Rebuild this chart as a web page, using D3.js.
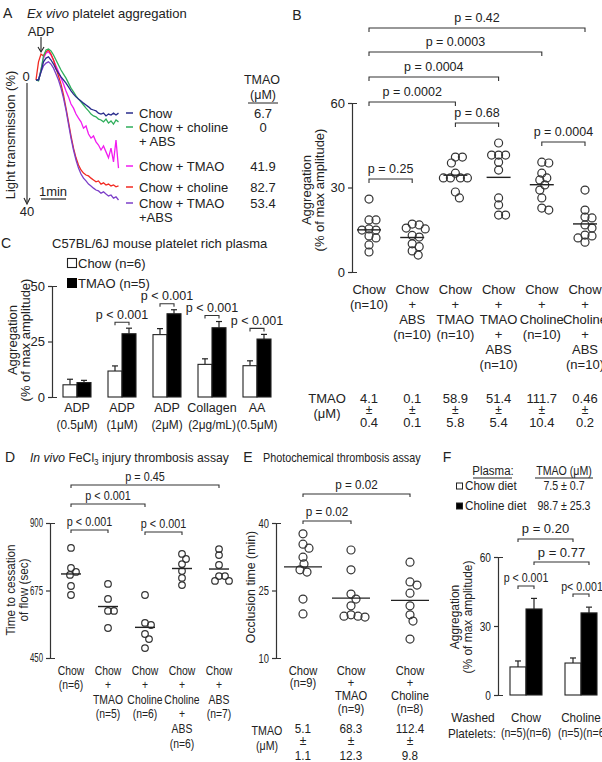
<!DOCTYPE html>
<html>
<head>
<meta charset="utf-8">
<script src="https://cdn.jsdelivr.net/npm/d3@7"></script>
<style>
  body { margin: 0; background: #fff; }
  svg { display: block; font-family: "Liberation Sans", Arial, sans-serif; }
  text { fill: #222; }
  .axis path, .axis line { stroke: #333; stroke-width: 1.2; }
  .axis text { fill: #222; }
</style>
</head>
<body>
<svg id="fig"></svg>
<script>
// ---------- data ----------
// A: aggregometer traces, light transmission (%), one sample every 0.1 min
var traceStep = 0.1;
var traceChow = [0,0,-2.6,-5.8,-7.0,-7.4,-6.4,-5.1,-3.5,-2.2,-1.0,0,1.0,2.2,3.5,4.5,5.4,6.1,6.7,7.4,8.0,8.6,9.3,9.6,9.9,10.6,10.9,10.6,11.5,10.9,11.2,10.6,11.2,10.6];
var traceCholineAbs = [0,0.3,-3.2,-7.7,-9.6,-9.9,-9.3,-8.0,-6.4,-4.8,-3.2,-1.9,-0.6,1.0,2.6,3.8,5.1,6.1,7.0,8.0,9.0,9.9,10.9,11.5,11.8,12.5,12.8,13.4,12.5,13.8,13.1,14.1,12.8,13.4];
var traceTmao = [0,0,-3.2,-7.0,-8.6,-9.0,-8.0,-6.4,-4.5,-2.6,-0.6,1.3,3.5,5.4,7.7,9.0,10.9,12.2,13.4,15.4,14.7,17.3,18.6,17.9,19.8,20.8,22.4,21.1,23.0,24.9,21.8,26.2,19.2,28.2];
var traceCholine = [0,-5.8,-8.3,-7.7,-9.0,-9.6,-8.3,-6.4,-3.8,-1.3,1.3,4.8,9.0,13.4,17.9,21.8,24.9,27.2,28.8,29.8,30.4,30.7,31.4,32.0,32.6,32.3,33.3,32.9,33.6,33.3,33.9,33.6,34.2,33.9];
var traceTmaoAbs = [0,0,-2.6,-4.5,-5.4,-5.8,-5.1,-3.8,-1.9,0,2.6,5.8,9.6,14.1,18.6,22.4,25.6,28.2,30.1,31.4,32.3,33.3,33.9,34.6,35.2,35.5,36.2,35.8,36.5,37.1,36.8,37.8,37.4,38.4];
var traceLegend = [["Chow"], ["Chow + choline", "+ ABS"], ["Chow + TMAO"], ["Chow + choline"], ["Chow + TMAO", "+ABS"]];
var traceTmaoLevel = ["6.7", "0", "41.9", "82.7", "53.4"];

// B: ex vivo aggregation (% of max amplitude), per mouse
var bLabels = [["Chow","(n=10)"],["Chow","+","ABS","(n=10)"],["Chow","+","TMAO","(n=10)"],
  ["Chow","+","TMAO","+","ABS","(n=10)"],["Chow","+","Choline","(n=10)"],["Chow","+","Choline","+","ABS","(n=10)"]];
var bValues = [
  [25.9,18.5,18.5,14.9,15.3,14.9,12.1,12.8,9.6,7.1],
  [17.0,16.7,15.6,15.3,13.0,12.4,10.0,9.0,7.5,6.0],
  [40.8,40.8,38.7,35.1,33.4,33.4,33.4,33.4,28.4,26.3],
  [45.8,41.5,41.5,41.5,39.0,36.2,26.3,23.8,20.2,20.2],
  [39.0,38.7,35.1,33.4,32.7,30.9,29.1,26.3,22.7,22.0],
  [29.1,22.0,19.2,19.5,16.7,15.6,13.1,12.8,12.1,10.6]
];
var bTmaoMean = ["4.1","0.1","58.9","51.4","111.7","0.46"];
var bTmaoSd = ["0.4","0.1","5.8","5.4","10.4","0.2"];
var bPairs = [[0,5],[0,4],[0,3],[0,2],[2,3],[4,5],[0,1]];
var bPvals = ["p = 0.42","p = 0.0003","p = 0.0004","p = 0.0002","p = 0.68","p = 0.0004","p = 0.25"];

// C: platelet rich plasma aggregation, mean and SE
var cAgonist = ["ADP","ADP","ADP","Collagen","AA"];
var cDose = ["(0.5\u03bcM)","(1\u03bcM)","(2\u03bcM)","(2\u03bcg/mL)","(0.5\u03bcM)"];
var cChow = [5.5, 11.7, 28.1, 14.7, 14.1];
var cChowErr = [2.5, 2.3, 2.7, 2.5, 2.2];
var cTmao = [6.5, 28.5, 37.5, 31.2, 26.1];
var cTmaoErr = [1.0, 2.5, 1.8, 2.8, 2.1];
var cPvals = [null, "p < 0.001", "p < 0.001", "p < 0.001", "p < 0.001"];

// D: time to cessation of flow (sec)
var dLabels = [["Chow","(n=6)"],["Chow","+","TMAO","(n=5)"],["Chow","+","Choline","(n=6)"],
  ["Chow","+","Choline","+","ABS","(n=6)"],["Chow","+","ABS","(n=7)"]];
var dValues = [
  [817,727,737,750,690,660],
  [697,647,607,607,550],
  [660,567,560,530,513,483],
  [797,780,763,740,717,693],
  [813,793,760,723,723,707,707]
];
var dPairs = [[0,4],[0,2],[0,1],[2,3]];
var dPvals = ["p = 0.45","p < 0.001","p < 0.001","p < 0.001"];

// E: occlusion time (min)
var eLabels = [["Chow","(n=9)"],["Chow","+","TMAO","(n=9)"],["Chow","+","Choline","(n=8)"]];
var eValues = [
  [37.6,35.3,34.4,32.4,30.9,29.6,29.1,23.1,19.8],
  [34.0,29.6,24.2,23.1,21.6,19.6,19.1,19.3,19.3],
  [31.3,26.9,26.2,24.4,21.6,19.6,18.2,14.2]
];
var eTmaoMean = ["5.1","68.3","112.4"];
var eTmaoSd = ["1.1","12.3","9.8"];
var ePairs = [[0,2],[0,1]];
var ePvals = ["p = 0.02","p = 0.02"];

// F: washed platelets, mean and SE
var fGroups = ["Chow","Choline"];
var fChowPlasma = [12.2, 13.9];
var fChowPlasmaErr = [2.6, 2.2];
var fCholinePlasma = [37.4, 35.7];
var fCholinePlasmaErr = [4.6, 2.5];
var fDiets = ["Chow diet","Choline diet"];
var fDietTmao = ["7.5 \u00b1 0.7","98.7 \u00b1 25.3"];

// ---------- helpers ----------
var svg = d3.select("#fig").attr("width", 602).attr("height", 762);
svg.append("rect").attr("width", 602).attr("height", 762).attr("fill", "#fff");

// text centred vertically on y; opt.sx squeezes it sideways (the lower panels use a narrow face)
function txt(g, x, y, s, opt) {
  opt = opt || {};
  var host = g, tx = x, ty = y;
  if (opt.sx && opt.sx !== 1) {
    host = g.append("g").attr("transform", "translate(" + x + "," + y + ") scale(" + opt.sx + ",1)");
    tx = 0; ty = 0;
  }
  var t = host.append("text")
    .attr("x", tx).attr("y", ty).attr("dy", "0.35em")
    .attr("text-anchor", opt.anchor || "middle")
    .attr("font-size", opt.size || 13)
    .text(s);
  if (opt.italic) t.attr("font-style", "italic");
  return t;
}

function vtxt(g, x, y, s, opt) {
  var gg = g.append("g").attr("transform", "translate(" + x + "," + y + ") rotate(-90)");
  return txt(gg, 0, 0, s, opt);
}

function bracket(g, x1, x2, y, tick) {
  g.append("path")
    .attr("d", "M" + x1 + "," + (y + tick) + "V" + y + "H" + x2 + "V" + (y + tick))
    .attr("fill", "none").attr("stroke", "#333").attr("stroke-width", 1.1);
}

// simple beeswarm: each point gets the smallest sideways offset that avoids the others
function swarm(values, y, r, squeeze) {
  var pts = values.map(function (v) { return { v: v, y: y(v), dx: 0 }; });
  var order = pts.slice().sort(function (a, b) { return a.y - b.y; });
  var minD = 2 * r * squeeze;
  var placed = [];
  order.forEach(function (p) {
    for (var k = 0; k < 80; k++) {
      var off = k === 0 ? 0 : (k % 2 ? (k + 1) / 2 : -k / 2);
      var hit = placed.some(function (q) {
        var ddx = q.dx - off, ddy = q.y - p.y;
        return ddx * ddx + ddy * ddy < minD * minD;
      });
      if (!hit) { p.dx = off; break; }
    }
    placed.push(p);
  });
  return pts;
}

function dotGroup(g, values, cx, y, r, squeeze, half) {
  swarm(values, y, r, squeeze).forEach(function (p) {
    g.append("circle").attr("cx", cx + p.dx).attr("cy", p.y).attr("r", r)
      .attr("fill", "none").attr("stroke", "#333").attr("stroke-width", 1.2);
  });
  var m = d3.mean(values);
  g.append("line").attr("x1", cx - half).attr("x2", cx + half)
    .attr("y1", y(m)).attr("y2", y(m)).attr("stroke", "#222").attr("stroke-width", 1.4);
}

function leftAxis(g, x, scale, ticks, size, sx) {
  var a = g.append("g").attr("class", "axis")
    .attr("transform", "translate(" + x + ",0)")
    .call(d3.axisLeft(scale).tickValues(ticks).tickSize(4).tickSizeOuter(-5).tickPadding(3));
  a.selectAll("text").attr("font-size", size).attr("font-family", null);
  if (sx) a.selectAll("text").attr("transform", "scale(" + sx + ",1)").attr("x", -7 / sx);
  return a;
}

function barPair(g, xc, w, y, v1, e1, v2, e2) {
  [[xc - w, v1, e1, "#fff"], [xc, v2, e2, "#000"]].forEach(function (b) {
    var top = y(b[1]), etop = y(b[1] + b[2]);
    g.append("line").attr("x1", b[0] + w / 2).attr("x2", b[0] + w / 2).attr("y1", top).attr("y2", etop)
      .attr("stroke", "#222").attr("stroke-width", 1.2);
    g.append("line").attr("x1", b[0] + w / 2 - 3).attr("x2", b[0] + w / 2 + 3).attr("y1", etop).attr("y2", etop)
      .attr("stroke", "#222").attr("stroke-width", 1.2);
    g.append("rect").attr("x", b[0]).attr("y", top).attr("width", w).attr("height", y(0) - top)
      .attr("fill", b[3]).attr("stroke", "#222").attr("stroke-width", 1.1);
  });
}

// ---------- panel A ----------
var gA = svg.append("g");
txt(gA, 3, 13, "A", { anchor: "start", size: 14 });
var ta = txt(gA, 27, 13, "", { anchor: "start", size: 13 });
ta.append("tspan").attr("font-style", "italic").text("Ex vivo");
ta.append("tspan").text(" platelet aggregation");

txt(gA, 41, 31, "ADP", { size: 13 });
gA.append("path").attr("d", "M41,37V51").attr("stroke", "#222").attr("stroke-width", 1.1);
gA.append("path").attr("d", "M38,47L41,52L44,47").attr("fill", "none").attr("stroke", "#222").attr("stroke-width", 1.1);

var ax = d3.scaleLinear().domain([0, (traceChow.length - 1) * traceStep]).range([36, 118.5]);
var ay = d3.scaleLinear().domain([0, 40]).range([80, 205]);

txt(gA, 26, 76, "0", { size: 13 });
txt(gA, 27, 211, "40", { size: 13 });
gA.append("path").attr("d", "M27," + (ay(0) + 3) + "V" + (ay(40) - 3)).attr("stroke", "#222").attr("stroke-width", 1.1);
gA.append("path").attr("d", "M24," + (ay(40) - 7) + "L27," + (ay(40) - 1) + "L30," + (ay(40) - 7))
  .attr("fill", "none").attr("stroke", "#222").attr("stroke-width", 1.1);
vtxt(gA, 10, 135, "Light transmission (%)", { size: 13 });

var traces = [
  { v: traceTmao, c: "#f21cf0" },
  { v: traceCholine, c: "#f22a22" },
  { v: traceTmaoAbs, c: "#7c3fc8" },
  { v: traceCholineAbs, c: "#2fae5b" },
  { v: traceChow, c: "#2a2d8c" }
];
var line = d3.line().x(function (d, i) { return ax(i * traceStep); }).y(function (d) { return ay(d); });
traces.forEach(function (t) {
  gA.append("path").attr("d", line(t.v)).attr("fill", "none").attr("stroke", t.c).attr("stroke-width", 1.3);
});

// 1 min scale bar
txt(gA, ax(0.2) + 12, 191, "1min", { size: 13 });
gA.append("line").attr("x1", ax(0.2)).attr("x2", ax(1.2)).attr("y1", 199).attr("y2", 199)
  .attr("stroke", "#222").attr("stroke-width", 1.2);

// legend + TMAO column
var legColors = ["#2a2d8c", "#2fae5b", "#f21cf0", "#f22a22", "#7c3fc8"];
var legY = [113, 127, 166, 187, 203];
txt(gA, 262, 80, "TMAO", { size: 12.5 });
txt(gA, 263, 95, "(\u03bcM)", { size: 12.5 });
gA.append("line").attr("x1", 248).attr("x2", 278).attr("y1", 103).attr("y2", 103).attr("stroke", "#222");
traceLegend.forEach(function (lab, i) {
  gA.append("line").attr("x1", 126).attr("x2", 133).attr("y1", legY[i]).attr("y2", legY[i])
    .attr("stroke", legColors[i]).attr("stroke-width", 1.5);
  lab.forEach(function (s, j) {
    txt(gA, 139, legY[i] + j * 14, s, { anchor: "start", size: 13 });
  });
  txt(gA, 263, legY[i], traceTmaoLevel[i], { size: 13 });
});

// ---------- panel B ----------
var gB = svg.append("g");
txt(gB, 297, 15, "B", { size: 14 });
var bx = d3.scalePoint().domain(d3.range(6)).range([369, 585]);
var by = d3.scaleLinear().domain([0, 60]).range([272, 103]);
leftAxis(gB, 352, by, [0, 30, 60], 13);
vtxt(gB, 306, 190, "Aggregation", { size: 13 });
vtxt(gB, 319, 190, "(% of max amplitude)", { size: 13 });

bValues.forEach(function (vals, i) {
  dotGroup(gB, vals, bx(i), by, 4, 0.85, 12);
});
var bLineY = [28, 52, 77, 102, 123, 142, 179];
bPairs.forEach(function (p, i) {
  bracket(gB, bx(p[0]), bx(p[1]), bLineY[i], 4);
  txt(gB, (bx(p[0]) + bx(p[1])) / 2, bLineY[i] - 10, bPvals[i], { size: 12.5 });
});
bLabels.forEach(function (lab, i) {
  lab.forEach(function (s, j) { txt(gB, bx(i), 289 + j * 15, s, { size: 13 }); });
  txt(gB, bx(i), 398, bTmaoMean[i], { size: 13 });
  txt(gB, bx(i), 410, "\u00b1", { size: 12 });
  txt(gB, bx(i), 422, bTmaoSd[i], { size: 13 });
});
txt(gB, 327, 398, "TMAO", { size: 13 });
txt(gB, 327, 413, "(\u03bcM)", { size: 13 });

// ---------- panel C ----------
var gC = svg.append("g");
txt(gC, 6, 243, "C", { size: 14 });
txt(gC, 52, 243, "C57BL/6J mouse platelet rich plasma", { anchor: "start", size: 13 });
gC.append("rect").attr("x", 67.5).attr("y", 258.5).attr("width", 9).attr("height", 9)
  .attr("fill", "#fff").attr("stroke", "#222").attr("stroke-width", 1.1);
txt(gC, 78, 263, "Chow (n=6)", { anchor: "start", size: 13 });
gC.append("rect").attr("x", 67.5).attr("y", 278.5).attr("width", 9).attr("height", 9)
  .attr("fill", "#000").attr("stroke", "#000");
txt(gC, 78, 283, "TMAO (n=5)", { anchor: "start", size: 13 });

var cx = d3.scalePoint().domain(d3.range(5)).range([77, 257]);
var cy = d3.scaleLinear().domain([0, 50]).range([397, 286]);
leftAxis(gC, 52, cy, [0, 25, 50], 13);
vtxt(gC, 12, 340, "Aggregation", { size: 13 });
vtxt(gC, 25, 340, "(% of max amplitude)", { size: 13 });

cChow.forEach(function (v, i) {
  barPair(gC, cx(i), 14, cy, v, cChowErr[i], cTmao[i], cTmaoErr[i]);
  txt(gC, cx(i), 408, cAgonist[i], { size: 12.5 });
  txt(gC, cx(i), 425, cDose[i], { size: 12.5, sx: 0.95 });
  if (cPvals[i]) {
    var yb = cy(Math.max(cChow[i] + cChowErr[i], cTmao[i] + cTmaoErr[i])) - 6;
    bracket(gC, cx(i) - 7, cx(i) + 7, yb, 3);
    txt(gC, cx(i), yb - 8, cPvals[i], { size: 12.5 });
  }
});

// ---------- panel D ----------
var gD = svg.append("g");
txt(gD, 5, 457, "D", { anchor: "start", size: 14 });
var td = txt(gD, 30, 457, "", { anchor: "start", size: 13.5, sx: 0.9 });
td.append("tspan").attr("font-style", "italic").text("In vivo");
td.append("tspan").text(" FeCl");
td.append("tspan").attr("font-size", 9).attr("dy", "3").text("3");
td.append("tspan").attr("dy", "-3").text(" injury thrombosis assay");

var dx = d3.scalePoint().domain(d3.range(5)).range([71, 219]);
var dy = d3.scaleLinear().domain([450, 900]).range([658, 523]);
leftAxis(gD, 50, dy, [450, 675, 900], 12, 0.65);
vtxt(gD, 10, 590, "Time to cessation", { size: 13, sx: 0.9 });
vtxt(gD, 23, 590, "of flow (sec)", { size: 13, sx: 0.9 });
dValues.forEach(function (vals, i) {
  dotGroup(gD, vals, dx(i), dy, 3.3, 0.9, 10);
});
var dLineY = [485, 504, 530, 532];
dPairs.forEach(function (p, i) {
  bracket(gD, dx(p[0]), dx(p[1]), dLineY[i], 3);
  txt(gD, (dx(p[0]) + dx(p[1])) / 2, dLineY[i] - 9, dPvals[i], { size: 13, sx: 0.83 });
});
dLabels.forEach(function (lab, i) {
  lab.forEach(function (s, j) { txt(gD, dx(i), 670 + j * 14.6, s, { size: 13, sx: 0.8 }); });
});

// ---------- panel E ----------
var gE = svg.append("g");
txt(gE, 248, 457, "E", { size: 14 });
txt(gE, 263, 457, "Photochemical thrombosis assay", { anchor: "start", size: 13, sx: 0.83 });
var ex = d3.scaleOrdinal().domain(d3.range(3)).range([303, 351, 410]);
var ey = d3.scaleLinear().domain([10, 40]).range([658, 523]);
leftAxis(gE, 276, ey, [10, 25, 40], 13, 0.72);
vtxt(gE, 250, 587, "Occlusion time (min)", { size: 13, sx: 0.95 });
eValues.forEach(function (vals, i) {
  dotGroup(gE, vals, ex(i), ey, 4, 0.85, 19);
});
var eLineY = [494, 521];
ePairs.forEach(function (p, i) {
  bracket(gE, ex(p[0]), ex(p[1]), eLineY[i], 3);
  txt(gE, (ex(p[0]) + ex(p[1])) / 2, eLineY[i] - 10, ePvals[i], { size: 13, sx: 0.9 });
});
eLabels.forEach(function (lab, i) {
  lab.forEach(function (s, j) { txt(gE, ex(i), 670 + j * 12.8, s, { size: 13, sx: 0.86 }); });
  txt(gE, ex(i), 728, eTmaoMean[i], { size: 13, sx: 0.9 });
  txt(gE, ex(i), 741, "\u00b1", { size: 12 });
  txt(gE, ex(i), 755, eTmaoSd[i], { size: 13, sx: 0.9 });
});
txt(gE, 267, 730, "TMAO", { size: 13, sx: 0.82 });
txt(gE, 267, 745, "(\u03bcM)", { size: 13, sx: 0.82 });

// ---------- panel F ----------
var gF = svg.append("g");
txt(gF, 447, 457, "F", { size: 14 });
txt(gF, 493, 471, "Plasma:", { size: 12.5, sx: 0.92 });
gF.append("line").attr("x1", 473).attr("x2", 512).attr("y1", 478).attr("y2", 478).attr("stroke", "#222");
txt(gF, 564, 471, "TMAO (\u03bcM)", { size: 12.5, sx: 0.85 });
gF.append("line").attr("x1", 535).attr("x2", 593).attr("y1", 478).attr("y2", 478).attr("stroke", "#222");
fDiets.forEach(function (d, i) {
  var yy = 486 + i * 20;
  gF.append("rect").attr("x", 456.5).attr("y", yy - 3).attr("width", 6).attr("height", 6)
    .attr("fill", i ? "#000" : "#fff").attr("stroke", "#222");
  txt(gF, 465, yy, d, { anchor: "start", size: 12.5, sx: 0.93 });
  txt(gF, 564, yy, fDietTmao[i], { size: 12.5, sx: 0.85 });
});

var fx = d3.scaleOrdinal().domain(d3.range(2)).range([526, 581]);
var fy = d3.scaleLinear().domain([0, 60]).range([695, 557]);
leftAxis(gF, 498, fy, [0, 30, 60], 13, 0.78);
vtxt(gF, 454, 617, "Aggregation", { size: 13, sx: 0.92 });
vtxt(gF, 467, 617, "(% of max amplitude)", { size: 13, sx: 0.92 });
fGroups.forEach(function (gname, i) {
  barPair(gF, fx(i), 16, fy, fChowPlasma[i], fChowPlasmaErr[i], fCholinePlasma[i], fCholinePlasmaErr[i]);
  txt(gF, fx(i), 717, gname, { size: 13, sx: 0.9 });
  txt(gF, fx(i) + i * 2, 733, "(n=5)(n=6)", { size: 12.5, sx: 0.85 });
});
txt(gF, 473, 717, "Washed", { size: 13, sx: 0.92 });
txt(gF, 472, 733, "Platelets:", { size: 13, sx: 0.9 });
// between-diet comparisons: white vs white, black vs black
bracket(gF, fx(0) - 8, fx(1) - 8, 539, 3);
txt(gF, (fx(0) + fx(1)) / 2 - 8, 528, "p = 0.20", { size: 13 });
bracket(gF, fx(0) + 8, fx(1) + 8, 562, 3);
txt(gF, (fx(0) + fx(1)) / 2 + 8, 552, "p = 0.77", { size: 13 });
bracket(gF, fx(0) - 8, fx(0) + 8, 586, 3);
txt(gF, fx(0), 578, "p < 0.001", { size: 12.5, sx: 0.85 });
bracket(gF, fx(1) - 8, fx(1) + 8, 594, 3);
txt(gF, fx(1) + 1, 587, "p< 0.001", { size: 12.5, sx: 0.85 });
</script>
</body>
</html>
